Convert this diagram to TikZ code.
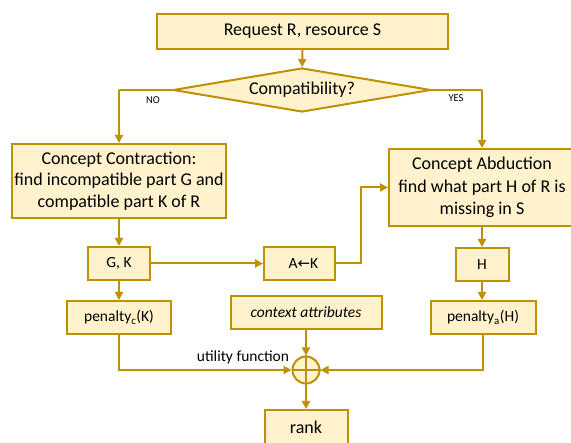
\documentclass[tikz,border=0pt]{standalone}
\usepackage{fontspec}
\setmainfont{Carlito}
\newfontfamily\arrowfont{DejaVu Sans}
\usetikzlibrary{shapes.geometric,arrows.meta,calc}
\definecolor{gold}{HTML}{BF9000}
\definecolor{paleyellow}{HTML}{FFF2CC}
\begin{document}
\begin{tikzpicture}[x=1pt,y=-1pt,
  box/.style={draw=gold,fill=paleyellow,line width=2pt,inner sep=0pt,align=center,
    font=\fontsize{18}{21.5}\selectfont},
  smallbox/.style={box,font=\fontsize{15.5}{18}\selectfont},
  dec/.style={draw=gold,fill=paleyellow,line width=2pt,shape=diamond,aspect=5.86,inner sep=0pt,
    minimum width=258pt,minimum height=44pt,font=\fontsize{18}{21}\selectfont},
  arr/.style={draw=gold,line width=2pt,-{Triangle[length=8pt,width=8pt]}},
  thin/.style={draw=gold,line width=1.2pt},
  lbl/.style={font=\fontsize{10.5}{12}\selectfont,inner sep=0pt}]
\useasboundingbox (0,0) rectangle (571,443);
\clip (0,0) rectangle (571,443);
\fill[white] (0,0) rectangle (571,443);

\node[box,minimum width=291pt,minimum height=35pt] (req) at (302.5,31.5) {Request R, resource S};
\node[dec] (dia) at (302,90) {Compatibility?};
\node[box,minimum width=214pt,minimum height=74pt] (contr) at (119,181)
  {Concept Contraction:\\find incompatible part G and\\compatible part K of R};
\node[box,minimum width=186pt,minimum height=77pt,font=\fontsize{18}{22.5}\selectfont] (abd) at (482,187.5)
  {Concept Abduction\\find what part H of R is\\missing in S};
\node[smallbox,minimum width=62pt,minimum height=33pt] (gk) at (119,263.5) {G, K};
\node[smallbox,minimum width=71pt,minimum height=33pt] (ak) at (299.5,263.5) {\hspace*{8pt}A{\arrowfont\fontsize{15}{16}\selectfont ←}K};
\node[smallbox,minimum width=53pt,minimum height=33pt] (h) at (482,264.5) {H};
\node[smallbox,minimum width=104pt,minimum height=33pt] (pc) at (119,317.5) {penalty\textsubscript{c}(K)};
\node[smallbox,minimum width=151pt,minimum height=33pt] (ctx) at (306,312.5) {\itshape context attributes};
\node[smallbox,minimum width=105pt,minimum height=33pt] (pa) at (483,317.5) {penalty\textsubscript{a}(H)};
\node[draw=gold,fill=paleyellow,line width=2pt,circle,minimum size=27pt,inner sep=0pt] (u) at (306,370) {};
\draw[gold,line width=1.5pt] (u.north) -- (u.south) (u.west) -- (u.east);
\node[box,minimum width=83pt,minimum height=35pt] (rank) at (306,427.5) {rank};

\node[font=\fontsize{15.5}{17}\selectfont,inner sep=0pt] (uf) at (243,357) {utility function};
\node[lbl] (no) at (153,100) {NO};
\node[lbl] (yes) at (456,98) {YES};

\draw[arr] (req) -- (dia);
\coordinate (nocorner) at (contr.north |- dia.west);
\coordinate (yescorner) at (abd.north |- dia.east);
\draw[thin] (dia.west) -- (nocorner);
\draw[arr] (nocorner) -- (contr.north);
\draw[thin] (dia.east) -- (yescorner);
\draw[arr] (yescorner) -- (abd.north);
\draw[arr] (contr) -- (gk);
\draw[arr] (gk) -- (ak);
\draw[arr] (ak.east) -| ([xshift=-27pt]abd.west) -- (abd.west);
\draw[arr] (abd) -- (h);
\draw[arr] (gk) -- (pc);
\draw[arr] (h.south) -- (h.south |- pa.north);
\draw[arr] (pc.south) |- (u.west);
\draw[arr] (pa.south) |- (u.east);
\draw[arr] (ctx) -- (u);
\draw[arr] (u) -- (rank);
\end{tikzpicture}
\end{document}
